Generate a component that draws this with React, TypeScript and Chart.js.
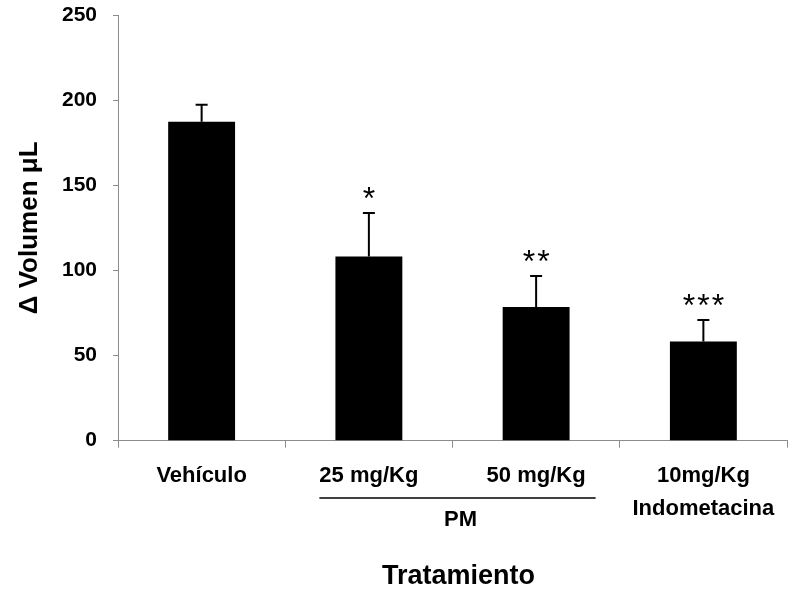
import { useEffect, useRef } from "react";
import { Chart, registerables } from "chart.js";

Chart.register(...registerables);

// Treatment groups (the last one is a two-line label)
const categories: (string | string[])[] = ["Vehículo", "25 mg/Kg", "50 mg/Kg", ["10mg/Kg", "Indometacina"]];
// Mean paw volume change (µL) and its error (upper bar only)
const meanVolume = [187.3, 108.2, 78.5, 58.3];
const errorVolume = [10, 25.5, 18.2, 12.6];
// Significance markers above each bar
const significance = ["", "*", "**", "***"];
// Y axis tick values
const yTicks = [0, 50, 100, 150, 200, 250];
// Bracketed group under the PM doses (category indices)
const groupLabel = "PM";
const groupRange = [1, 2];
const xTitle = "Tratamiento";
const yTitle = "Δ Volumen μL";

const FONT = "'Liberation Sans', Arial, Helvetica, sans-serif";
const AXIS_GREY = "#8c8c8c";

const decorations = {
  id: "decorations",
  afterDatasetsDraw(chart: any) {
    const { ctx } = chart;
    const y = chart.scales.y;
    const meta = chart.getDatasetMeta(0);
    ctx.save();
    meta.data.forEach((bar: any, i: number) => {
      const x = bar.x;
      const top = y.getPixelForValue(meanVolume[i]);
      const errTop = y.getPixelForValue(meanVolume[i] + errorVolume[i]);
      // error bar with cap
      ctx.strokeStyle = "#000";
      ctx.lineWidth = 2;
      ctx.beginPath();
      ctx.moveTo(x, top);
      ctx.lineTo(x, errTop);
      ctx.moveTo(x - 6, errTop);
      ctx.lineTo(x + 6, errTop);
      ctx.stroke();

      // significance asterisks
      const marks = significance[i];
      if (marks) {
        ctx.font = `32px ${FONT}`;
        ctx.fillStyle = "#000";
        ctx.textAlign = "center";
        ctx.textBaseline = "alphabetic";
        const m = ctx.measureText("*");
        const inkMid = (m.actualBoundingBoxAscent - m.actualBoundingBoxDescent) / 2;
        const cy = errTop - 20;
        const step = 14.5;
        const n = marks.length;
        for (let k = 0; k < n; k++) {
          const cx = x + (k - (n - 1) / 2) * step;
          ctx.fillText("*", cx, cy + inkMid);
        }
      }
    });
    ctx.restore();
  },
  afterDraw(chart: any) {
    const { ctx } = chart;
    const xs = chart.scales.x;
    ctx.save();
    ctx.font = `bold 22px ${FONT}`;
    const a = groupRange[0];
    const b = groupRange[1];
    const left = xs.getPixelForValue(a) - ctx.measureText(categories[a] as string).width / 2;
    const right = xs.getPixelForValue(b) + ctx.measureText(categories[b] as string).width / 2 + 10;
    const lineY = 498;
    ctx.strokeStyle = "#000";
    ctx.lineWidth = 1.5;
    ctx.beginPath();
    ctx.moveTo(left, lineY);
    ctx.lineTo(right, lineY);
    ctx.stroke();
    ctx.fillStyle = "#000";
    ctx.textAlign = "center";
    ctx.textBaseline = "middle";
    ctx.fillText(groupLabel, (left + right) / 2 + 3, 520);

    // axis title under the categories
    ctx.font = `bold 27px ${FONT}`;
    ctx.fillText(xTitle, (chart.chartArea.left + chart.chartArea.right) / 2 + 6, 577);
    ctx.restore();
  },
};

export default function App() {
  const canvasRef = useRef<HTMLCanvasElement | null>(null);

  useEffect(() => {
    const canvas = canvasRef.current;
    if (!canvas) return;
    const chart = new Chart(canvas, {
      type: "bar",
      data: {
        labels: categories,
        datasets: [
          {
            data: meanVolume,
            backgroundColor: "#000",
            borderWidth: 0,
            barPercentage: 0.4,
            categoryPercentage: 1,
          },
        ],
      },
      options: {
        responsive: false,
        animation: false,
        events: [],
        layout: { padding: { top: 15, right: 1, left: 0, bottom: 0 } },
        plugins: {
          legend: { display: false },
          tooltip: { enabled: false },
        },
        scales: {
          x: {
            offset: true,
            grid: {
              offset: true,
              drawOnChartArea: false,
              drawTicks: true,
              tickLength: 7,
              color: AXIS_GREY,
            },
            border: { display: true, color: AXIS_GREY, width: 1 },
            ticks: {
              color: "#000",
              font: { family: FONT, size: 22, weight: "bold", lineHeight: 1.5 },
              padding: 12,
              maxRotation: 0,
              autoSkip: false,
            },
            afterFit(scale: any) {
              scale.height = 151.3;
            },
          },
          y: {
            min: 0,
            max: 250,
            grid: {
              drawOnChartArea: false,
              drawTicks: true,
              tickLength: 5,
              color: AXIS_GREY,
            },
            border: { display: true, color: AXIS_GREY, width: 1 },
            ticks: {
              color: "#000",
              font: { family: FONT, size: 21, weight: "bold" },
              padding: 16,
            },
            afterBuildTicks(scale: any) {
              scale.ticks = yTicks.map((v) => ({ value: v }));
            },
            title: {
              display: true,
              text: yTitle,
              color: "#000",
              font: { family: FONT, size: 26, weight: "bold", lineHeight: 1.2 },
              padding: { top: 14, bottom: 0 },
            },
            afterFit(scale: any) {
              scale.width = 118;
              scale.paddingTop = 0;
              scale.paddingBottom = 0;
            },
          },
        },
      },
      plugins: [decorations],
    });
    return () => chart.destroy();
  }, []);

  return (
    <div style={{ position: "fixed", left: 0, top: 0, width: 788, height: 592, background: "#fff" }}>
      <canvas ref={canvasRef} width={788} height={592} style={{ display: "block" }} />
    </div>
  );
}
